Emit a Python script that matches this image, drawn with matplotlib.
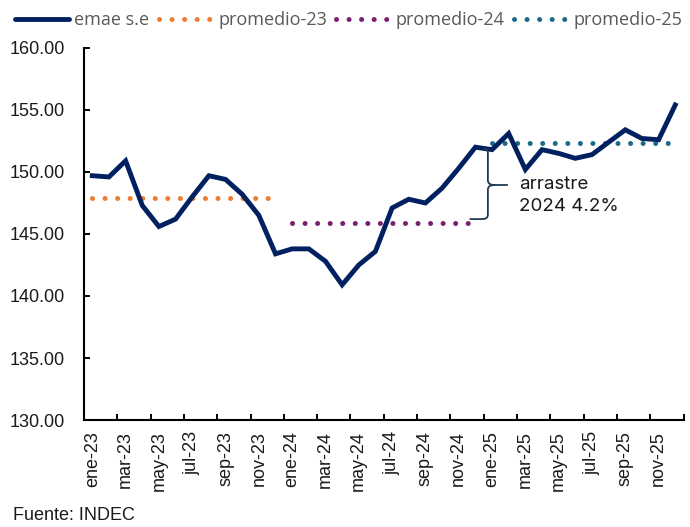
import matplotlib.pyplot as plt
from matplotlib.path import Path
from matplotlib.patches import PathPatch
from matplotlib.lines import Line2D

# meses ene-23 .. dic-25
meses = ['ene', 'feb', 'mar', 'abr', 'may', 'jun', 'jul', 'ago', 'sep', 'oct', 'nov', 'dic']
anios = ['23', '24', '25']
etiquetas = [m + '-' + a for a in anios for m in meses]

emae = [149.7, 149.6, 150.9, 147.3, 145.6, 146.2, 148.0, 149.7, 149.4, 148.2, 146.5, 143.4,
        143.8, 143.8, 142.8, 140.9, 142.5, 143.6, 147.1, 147.8, 147.5, 148.7, 150.3, 152.0,
        151.8, 153.1, 150.2, 151.8, 151.5, 151.1, 151.4, 152.4, 153.4, 152.7, 152.6, 155.4]
prom_23 = 147.9
prom_24 = 145.9
prom_25 = 152.3

AZUL = '#002060'
NARANJA = '#ED7D31'
VIOLETA = '#782170'
TEAL = '#1B6A8A'
GRIS = '#595959'

plt.rcParams['font.family'] = ['Liberation Sans', 'DejaVu Sans']

fig = plt.figure(figsize=(6.9, 5.27), dpi=100)
ax = fig.add_axes([0.1217, 0.203, 0.869, 0.706])

x = list(range(len(emae)))
lw_dot = 3.6
dots = (0, (0.01, 2.5))

ax.plot(x, emae, color=AZUL, lw=3.5, solid_joinstyle='miter', zorder=4)
for k, (val, col) in enumerate([(prom_23, NARANJA), (prom_24, VIOLETA), (prom_25, TEAL)]):
    xs = x[12 * k:12 * (k + 1)]
    ax.plot(xs, [val] * len(xs), color=col, lw=lw_dot, linestyle=dots,
            dash_capstyle='round', zorder=3)

# llave del arrastre
xb = 23.75
y_top, y_mid, y_bot = 151.85, 148.95, 146.2
verts = [(xb - 0.25, y_top), (xb, y_top), (xb, y_top - 0.15), (xb, y_top - 0.4),
         (xb, y_mid + 0.4),
         (xb, y_mid + 0.1), (xb + 0.15, y_mid), (xb + 0.4, y_mid),
         (xb + 1.2, y_mid),
         (xb + 0.4, y_mid), (xb + 0.15, y_mid), (xb, y_mid - 0.1), (xb, y_mid - 0.4),
         (xb, y_bot + 0.4),
         (xb, y_bot + 0.1), (xb - 0.1, y_bot), (xb - 0.4, y_bot),
         (xb - 1.1, y_bot)]
codes = [Path.MOVETO, Path.CURVE4, Path.CURVE4, Path.CURVE4,
         Path.LINETO,
         Path.CURVE4, Path.CURVE4, Path.CURVE4,
         Path.LINETO,
         Path.MOVETO, Path.CURVE4, Path.CURVE4, Path.CURVE4,
         Path.LINETO,
         Path.CURVE4, Path.CURVE4, Path.CURVE4,
         Path.LINETO]
ax.add_patch(PathPatch(Path(verts, codes), fill=False, edgecolor='#1F3B55', lw=1.3, zorder=5))
ax.text(25.6, 148.1, 'arrastre\n2024 4.2%', fontsize=13.5, family=['Inter', 'DejaVu Sans'],
        color='#1a1a1a', va='center', ha='left', linespacing=1.33)

ax.set_xlim(-0.5, len(emae) - 0.5)
ax.set_ylim(130, 160)
ax.set_yticks([130, 135, 140, 145, 150, 155, 160])
ax.set_yticklabels(['%.2f' % v for v in [130, 135, 140, 145, 150, 155, 160]])
ax.tick_params(axis='y', direction='in', length=4.5, width=1.4, labelsize=13,
               labelcolor='#1a1a1a', pad=13.5)

ax.set_xticks([i + 1.5 for i in range(0, 36, 2)])
ax.set_xticklabels([])
ax.set_xticks(x[::2], minor=True)
ax.set_xticklabels(etiquetas[::2], minor=True, rotation=90)
ax.tick_params(axis='x', which='major', direction='in', length=4.5, width=1.4)
ax.tick_params(axis='x', which='minor', length=0, labelsize=13, labelcolor='#1a1a1a', pad=8)

for s in ['top', 'right']:
    ax.spines[s].set_visible(False)
for s in ['left', 'bottom']:
    ax.spines[s].set_linewidth(1.5)
    ax.spines[s].set_color('black')

handles = [Line2D([], [], color=AZUL, lw=3.5, solid_capstyle='round')]
for col in [NARANJA, VIOLETA, TEAL]:
    handles.append(Line2D([], [], color=col, lw=lw_dot, linestyle=dots, dash_capstyle='round'))
leg = fig.legend(handles, ['emae s.e', 'promedio-23', 'promedio-24', 'promedio-25'],
                 loc='center', bbox_to_anchor=(0.505, 0.962), ncol=4, frameon=False,
                 prop={'family': ['Open Sans', 'DejaVu Sans'], 'size': 13},
                 handlelength=3.0, handletextpad=0.3, columnspacing=0.5,
                 borderaxespad=0)
for t in leg.get_texts():
    t.set_color(GRIS)

fig.text(0.019, 0.006, 'Fuente: INDEC', fontsize=13, color='#1a1a1a', ha='left', va='bottom')

fig.savefig('out.png', dpi=100)
